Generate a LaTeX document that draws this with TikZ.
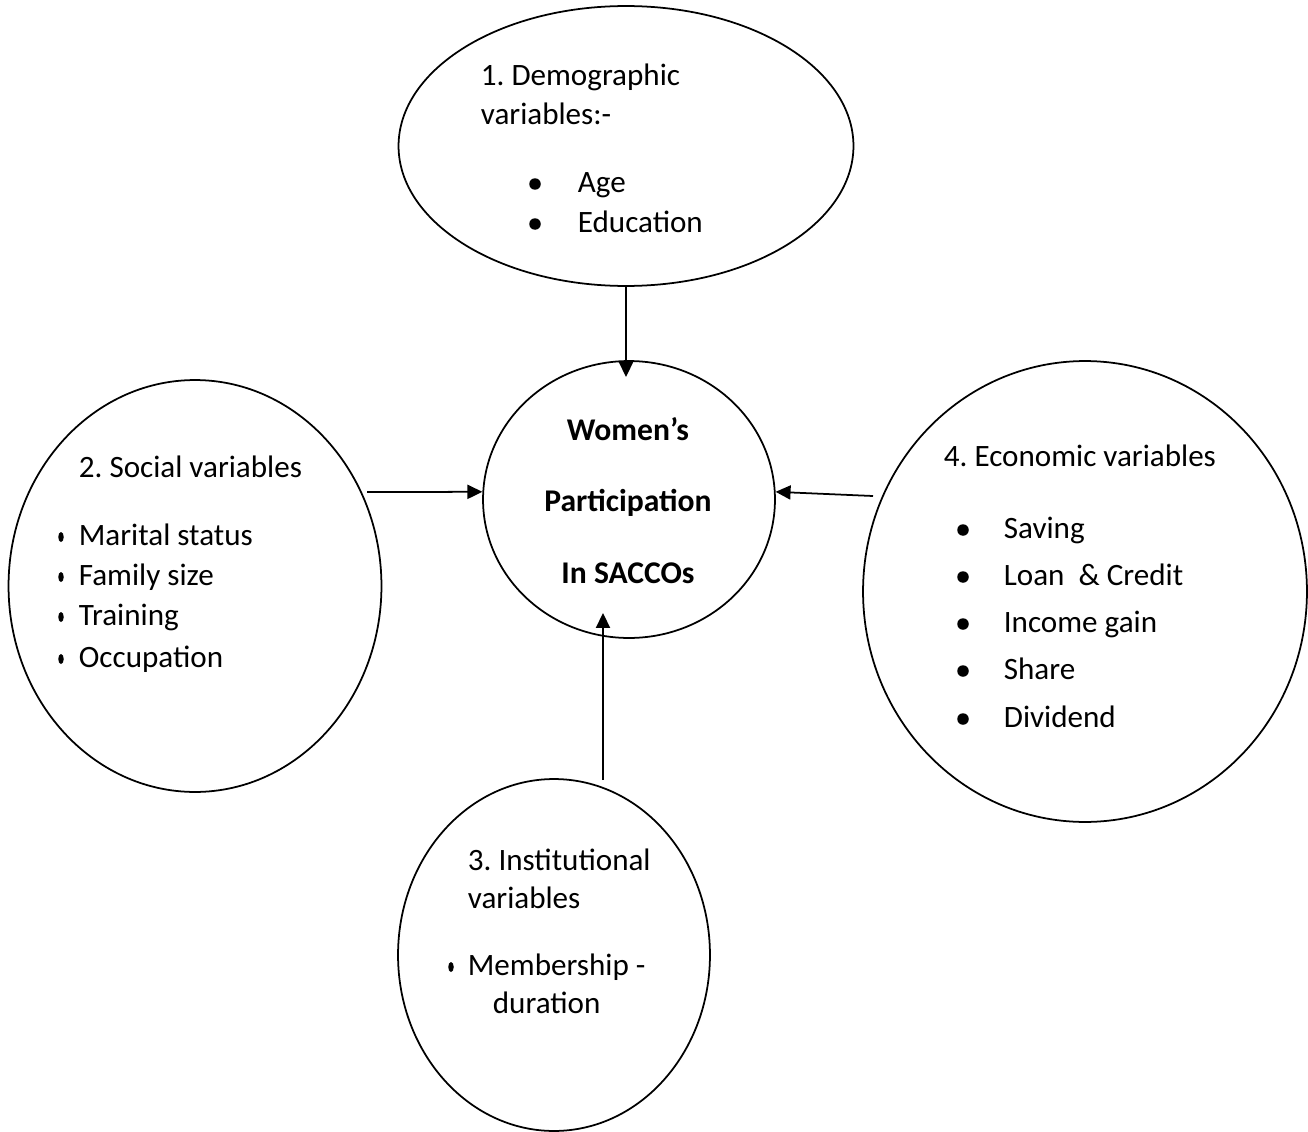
\documentclass[tikz,border=0pt]{standalone}
\usepackage{fontspec}
\setmainfont{Carlito}
\frenchspacing
\usetikzlibrary{shapes.geometric, arrows.meta}
\tikzset{
flow/.style={-{Triangle[length=8.5pt,width=8pt]}}, % arrows pointing into the centre
var/.style={draw, ellipse, inner sep=0pt}, % the four outer ellipses
txt/.style={anchor=base west, inner sep=0pt, font=\fontsize{17.7}{21}\selectfont}, % one line of text
head/.style={anchor=base, inner sep=0pt, font=\fontsize{18}{21}\selectfont\bfseries}, % bold centre text
bul/.style={circle, fill, inner sep=0pt, minimum size=2.3mm}, % round bullet
nbul/.style={ellipse, fill, inner sep=0pt, minimum width=1.1mm, minimum height=2mm}, % narrow bullet
}

\begin{document}
\begin{tikzpicture}[x=0.02cm, y=-0.02cm, line width=1pt]
    \useasboundingbox (0,0) rectangle (1308,1132);
    % centre
    \node[var, minimum width=5.84cm, minimum height=5.54cm] (cen) at (629,499.5) {};
    \node[head] (cen1) at (628,440) {Women’s};
    \node[head] (cen2) at (628,511) {Participation};
    \node[head] (cen3) at (628,583) {In SACCOs};
    % 1. demographic
    \node[var, minimum width=9.1cm, minimum height=5.6cm] (demo) at (626,146) {};
    \node[txt] (demo1) at (480,86) {1. Demographic};
    \node[txt] (demo2) at (480,125) {variables:-};
    \node[bul] (demob1) at (535,184) {};
    \node[txt] (demo3) at (577,192) {Age};
    \node[bul] (demob2) at (535,224) {};
    \node[txt] (demo4) at (577,232) {Education};
    % 2. social
    \node[var, minimum width=7.46cm, minimum height=8.24cm] (soc) at (195,586) {};
    \node[txt] (soc1) at (78,477) {2. Social variables};
    \node[nbul] (socb1) at (61,537) {};
    \node[txt] (soc2) at (78,545) {Marital status};
    \node[nbul] (socb2) at (61,577) {};
    \node[txt] (soc3) at (78,585) {Family size};
    \node[nbul] (socb3) at (61,617) {};
    \node[txt] (soc4) at (78,625) {Training};
    \node[nbul] (socb4) at (61,659) {};
    \node[txt] (soc5) at (78,667) {Occupation};
    % 3. institutional
    \node[var, minimum width=6.24cm, minimum height=7.04cm] (ins) at (554,955) {};
    \node[txt] (ins1) at (467,870) {3. Institutional};
    \node[txt] (ins2) at (467,908) {variables};
    \node[nbul] (insb1) at (451,967) {};
    \node[txt] (ins3) at (467,975) {Membership -};
    \node[txt] (ins4) at (492,1013) {duration};
    % 4. economic
    \node[var, minimum width=8.88cm, minimum height=9.22cm] (eco) at (1085,591.5) {};
    \node[txt] (eco1) at (943,466) {4. Economic variables};
    \node[bul] (ecob1) at (963,530) {};
    \node[txt] (eco2) at (1003,538) {Saving};
    \node[bul] (ecob2) at (963,577) {};
    \node[txt] (eco3) at (1003,585) {Loan~~\& Credit};
    \node[bul] (ecob3) at (963,624) {};
    \node[txt] (eco4) at (1003,632) {Income gain};
    \node[bul] (ecob4) at (963,671) {};
    \node[txt] (eco5) at (1003,679) {Share};
    \node[bul] (ecob5) at (963,719) {};
    \node[txt] (eco6) at (1003,727) {Dividend};
    % arrow ends
    \coordinate (demotip) at (626,377);
    \coordinate (socout) at (367,492);
    \coordinate (ecoout) at (873,496);
    \coordinate (insout) at (603,780);
    \coordinate (instip) at (603,613);
    \draw[flow] (demo.south) -- (demotip);
    \draw[flow] (socout) -- (cen.177);
    \draw[flow] (ecoout) -- (cen.3);
    \draw[flow] (insout) -- (instip);
\end{tikzpicture}
\end{document}
